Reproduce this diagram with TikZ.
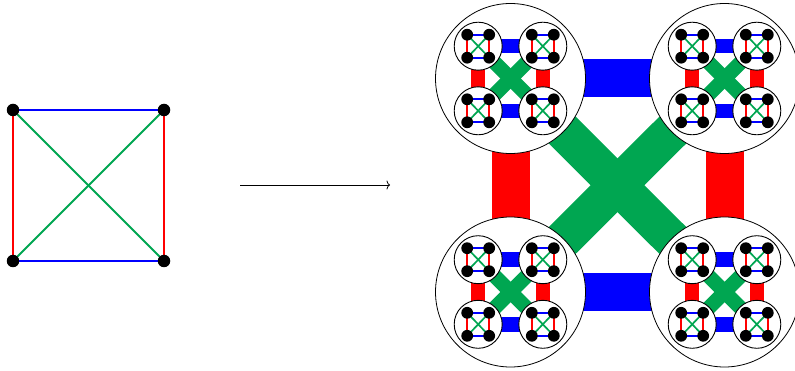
\documentclass[tikz,border=0pt]{standalone}
\usetikzlibrary{arrows.meta}
\definecolor{kred}{RGB}{255,0,0}
\definecolor{kblue}{RGB}{0,0,255}
\definecolor{kgreen}{RGB}{0,166,81}
\pgfdeclarelayer{lzero}
\pgfdeclarelayer{lone}
\pgfdeclarelayer{ltwo}
\pgfdeclarelayer{lthree}
\pgfdeclarelayer{lfour}
\pgfsetlayers{lzero,lone,ltwo,main,lthree,lfour}
\begin{document}
\begin{tikzpicture}[x=1pt,y=-1pt,
  bigdot/.style={circle,fill=black,inner sep=0pt,minimum size=12.5pt},
  smalldot/.style={circle,fill=black,inner sep=0pt,minimum size=11.8pt},
  kedge/.style={line width=1.8pt},
  fedge/.style={line width=1.7pt},
  bigc/.style={circle,draw=black,fill=white,line width=0.8pt,inner sep=0pt,minimum size=150pt},
  smallc/.style={circle,draw=black,fill=white,line width=0.9pt,inner sep=0pt,minimum size=48pt},
  topband/.style={line width=38pt},
  midband/.style={line width=14.5pt}]
\useasboundingbox (0,0) rectangle (795,371);

% left K4
\node[bigdot] (a1) at (13,110) {};
\node[bigdot] (a2) at (164,110) {};
\node[bigdot] (a3) at (13,261) {};
\node[bigdot] (a4) at (164,261) {};
\begin{pgfonlayer}{ltwo}
\draw[kedge,draw=kblue] (a1.center) -- (a2.center);
\draw[kedge,draw=kblue] (a3.center) -- (a4.center);
\draw[kedge,draw=kred] (a1.center) -- (a3.center);
\draw[kedge,draw=kred] (a4.center) -- (a2.center);
\draw[kedge,draw=kgreen] (a1.center) -- (a4.center);
\draw[kedge,draw=kgreen] (a2.center) -- (a3.center);
\end{pgfonlayer}

% arrow
\coordinate (ar1) at (240,185);
\coordinate (ar2) at (390,185);
\draw[line width=0.8pt,-{To[length=3.5pt,width=9pt]}] (ar1) -- (ar2);

% fractal
\foreach \bx/\by/\b in {510.5/78.5/1, 724.5/78.5/2, 510.5/292/3, 724.5/292/4} {
  \begin{pgfonlayer}{lone}
    \node[bigc] (B\b) at (\bx,\by) {};
  \end{pgfonlayer}
  \begin{scope}[shift={(\bx,\by)}]
    \foreach \mx/\my/\m in {-32.3/-32.3/1, 32.3/-32.3/2, -32.3/32.3/3, 32.3/32.3/4} {
      \node[smallc] (S\b\m) at (\mx,\my) {};
      \begin{scope}[shift={(\mx,\my)}]
        \begin{pgfonlayer}{lfour}
        \node[smalldot] (D\b\m1) at (-11,-11.5) {};
        \node[smalldot] (D\b\m2) at (11,-11.5) {};
        \node[smalldot] (D\b\m3) at (-11,11.5) {};
        \node[smalldot] (D\b\m4) at (11,11.5) {};
        \end{pgfonlayer}
      \end{scope}
      \begin{pgfonlayer}{lthree}
      \draw[fedge,draw=kblue] (D\b\m1.center) -- (D\b\m2.center);
      \draw[fedge,draw=kblue] (D\b\m3.center) -- (D\b\m4.center);
      \draw[fedge,draw=kred] (D\b\m1.center) -- (D\b\m3.center);
      \draw[fedge,draw=kred] (D\b\m4.center) -- (D\b\m2.center);
      \draw[fedge,draw=kgreen] (D\b\m1.center) -- (D\b\m4.center);
      \draw[fedge,draw=kgreen] (D\b\m2.center) -- (D\b\m3.center);
      \end{pgfonlayer}
    }
  \end{scope}
  \begin{pgfonlayer}{ltwo}
    \draw[midband,draw=kblue] (S\b1.center) -- (S\b2.center);
    \draw[midband,draw=kblue] (S\b3.center) -- (S\b4.center);
    \draw[midband,draw=kred] (S\b1.center) -- (S\b3.center);
    \draw[midband,draw=kred] (S\b2.center) -- (S\b4.center);
    \draw[midband,draw=kgreen] (S\b1.center) -- (S\b4.center);
    \draw[midband,draw=kgreen] (S\b2.center) -- (S\b3.center);
  \end{pgfonlayer}
}
\begin{pgfonlayer}{lzero}
  \draw[topband,draw=kblue] (B1.center) -- (B2.center);
  \draw[topband,draw=kblue] (B3.center) -- (B4.center);
  \draw[topband,draw=kred] (B1.center) -- (B3.center);
  \draw[topband,draw=kred] (B2.center) -- (B4.center);
  \draw[topband,draw=kgreen] (B1.center) -- (B4.center);
  \draw[topband,draw=kgreen] (B2.center) -- (B3.center);
\end{pgfonlayer}
\end{tikzpicture}
\end{document}
